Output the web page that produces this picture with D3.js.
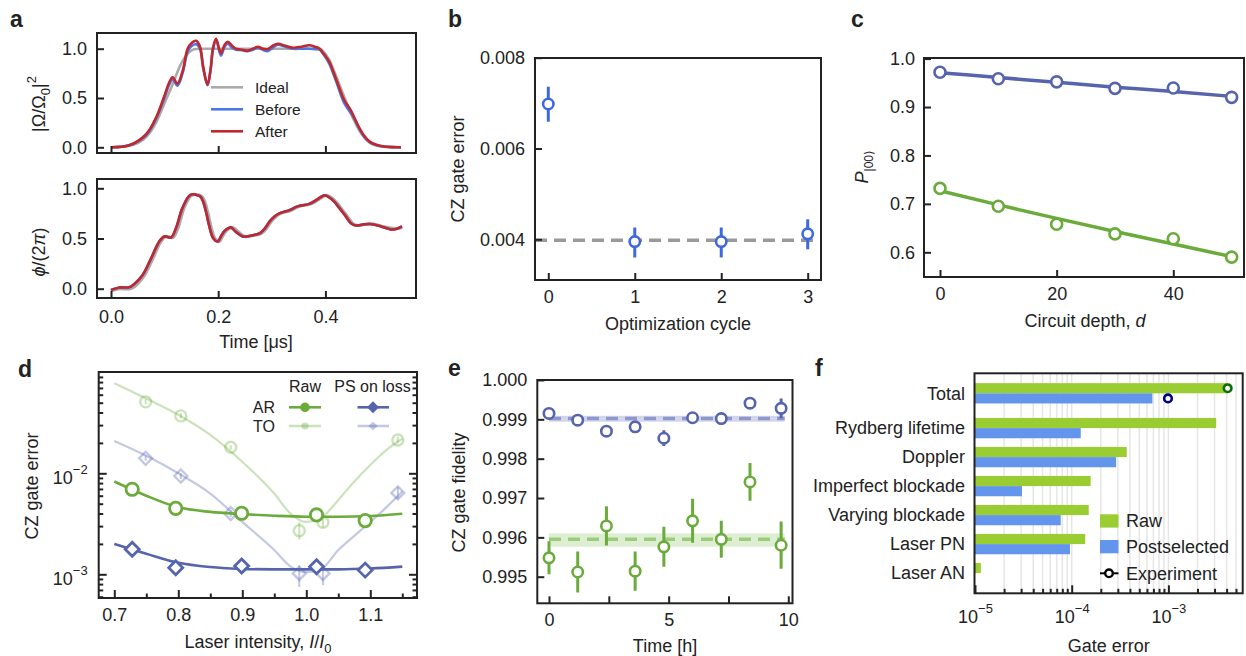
<!DOCTYPE html>
<html><head><meta charset="utf-8">
<script src="https://cdn.jsdelivr.net/npm/d3@7"></script>
<style>
body{margin:0;background:#fff}
svg{display:block;font-family:"Liberation Sans",Arial,Helvetica,sans-serif}
</style></head><body>
<svg id="fig" width="1246" height="656"></svg>
<script>
// ================= DATA =================
// (a) pulse amplitude |Ω/Ω0|^2 vs time [µs]
const pulseIdeal = [[0,0],[0.034,0.015],[0.065,0.10],[0.084,0.25],[0.100,0.45],[0.115,0.64],[0.130,0.84],[0.145,0.96],[0.155,0.995],[0.165,1.0],[0.39,1.0],[0.398,0.96],[0.407,0.89],[0.420,0.72],[0.436,0.50],[0.452,0.29],[0.468,0.13],[0.482,0.05],[0.497,0.015],[0.51,0.004],[0.541,0]];
const pulseBefore = [[0,0],[0.034,0.02],[0.065,0.12],[0.084,0.29],[0.0995,0.50],[0.108,0.63],[0.115,0.69],[0.124,0.625],[0.134,0.76],[0.143,0.97],[0.151,1.03],[0.159,1.045],[0.166,1.0],[0.172,0.80],[0.180,0.63],[0.186,0.79],[0.190,0.98],[0.196,1.09],[0.205,0.93],[0.212,1.02],[0.218,1.05],[0.226,1.01],[0.233,0.99],[0.245,0.985],[0.255,0.975],[0.265,0.99],[0.274,1.01],[0.283,0.99],[0.292,0.975],[0.302,1.01],[0.311,1.04],[0.325,1.02],[0.339,1.0],[0.355,1.0],[0.370,1.0],[0.380,0.995],[0.389,0.99],[0.398,0.93],[0.407,0.85],[0.420,0.67],[0.435,0.45],[0.447,0.35],[0.455,0.28],[0.463,0.19],[0.472,0.11],[0.482,0.055],[0.495,0.022],[0.507,0.008],[0.525,0.002],[0.541,0.0]];
const pulseAfter = [[0,0],[0.034,0.02],[0.065,0.13],[0.084,0.30],[0.0995,0.52],[0.108,0.65],[0.115,0.71],[0.124,0.645],[0.134,0.78],[0.143,1.0],[0.151,1.06],[0.159,1.08],[0.166,1.02],[0.172,0.82],[0.180,0.635],[0.186,0.80],[0.190,1.0],[0.196,1.10],[0.205,0.955],[0.212,1.04],[0.218,1.07],[0.226,1.03],[0.233,1.0],[0.245,0.99],[0.255,0.98],[0.265,1.0],[0.274,1.02],[0.283,1.0],[0.292,0.995],[0.302,1.03],[0.311,1.05],[0.325,1.03],[0.339,1.01],[0.355,1.02],[0.370,1.035],[0.380,1.02],[0.389,1.0],[0.398,0.94],[0.407,0.87],[0.420,0.69],[0.435,0.48],[0.447,0.38],[0.455,0.29],[0.463,0.20],[0.472,0.12],[0.482,0.06],[0.495,0.025],[0.507,0.01],[0.525,0.002],[0.541,0.0]];
// (a) phase φ/(2π)
const phaseIdeal = [[0,-0.02],[0.016,0.0],[0.036,0.0],[0.046,0.03],[0.062,0.13],[0.078,0.30],[0.093,0.47],[0.1025,0.52],[0.115,0.51],[0.124,0.59],[0.136,0.80],[0.148,0.92],[0.155,0.94],[0.162,0.935],[0.169,0.92],[0.174,0.88],[0.181,0.75],[0.186,0.63],[0.194,0.50],[0.202,0.47],[0.208,0.52],[0.214,0.57],[0.221,0.60],[0.227,0.61],[0.235,0.58],[0.249,0.52],[0.265,0.53],[0.28,0.55],[0.29,0.60],[0.299,0.67],[0.308,0.72],[0.317,0.75],[0.335,0.78],[0.351,0.82],[0.373,0.845],[0.388,0.89],[0.401,0.93],[0.41,0.91],[0.419,0.87],[0.431,0.79],[0.441,0.72],[0.451,0.65],[0.46,0.63],[0.473,0.64],[0.485,0.645],[0.497,0.635],[0.507,0.62],[0.525,0.60],[0.535,0.60],[0.543,0.61]];
const phaseBefore = [[0,-0.013],[0.0156,0.012],[0.034,0.014],[0.043,0.044],[0.059,0.136],[0.0746,0.30],[0.090,0.47],[0.0995,0.52],[0.112,0.51],[0.121,0.60],[0.133,0.80],[0.145,0.92],[0.152,0.94],[0.159,0.935],[0.166,0.92],[0.171,0.88],[0.178,0.75],[0.183,0.63],[0.191,0.50],[0.199,0.47],[0.205,0.52],[0.211,0.57],[0.218,0.60],[0.224,0.61],[0.232,0.57],[0.246,0.52],[0.262,0.53],[0.277,0.55],[0.287,0.60],[0.296,0.67],[0.305,0.72],[0.314,0.75],[0.332,0.78],[0.348,0.82],[0.370,0.845],[0.385,0.89],[0.398,0.93],[0.407,0.91],[0.416,0.87],[0.428,0.79],[0.438,0.72],[0.448,0.65],[0.457,0.63],[0.470,0.64],[0.482,0.645],[0.494,0.635],[0.504,0.62],[0.522,0.59],[0.532,0.595],[0.543,0.62]];
const phaseAfter = [[0,-0.013],[0.0156,0.012],[0.034,0.014],[0.043,0.044],[0.059,0.136],[0.0746,0.30],[0.090,0.47],[0.0995,0.52],[0.112,0.51],[0.121,0.60],[0.133,0.80],[0.145,0.92],[0.152,0.94],[0.159,0.935],[0.166,0.92],[0.171,0.88],[0.178,0.75],[0.183,0.63],[0.191,0.50],[0.199,0.47],[0.205,0.52],[0.211,0.57],[0.218,0.60],[0.224,0.61],[0.232,0.57],[0.246,0.52],[0.262,0.53],[0.277,0.55],[0.287,0.60],[0.296,0.67],[0.305,0.72],[0.314,0.75],[0.332,0.78],[0.348,0.82],[0.370,0.845],[0.385,0.89],[0.398,0.93],[0.407,0.91],[0.416,0.87],[0.428,0.79],[0.438,0.72],[0.448,0.65],[0.457,0.63],[0.470,0.64],[0.482,0.645],[0.494,0.635],[0.504,0.62],[0.522,0.59],[0.532,0.595],[0.543,0.62]];
const aLegend = ["Ideal", "Before", "After"];
const aTicksX = [0, 0.2, 0.4];
const aTicksY = [0, 0.5, 1.0];

// (b) CZ gate error vs optimization cycle
const cycles = [0, 1, 2, 3];
const cycleErr = [0.00698, 0.00395, 0.00395, 0.00412];
const cycleLo = [0.00659, 0.00360, 0.00360, 0.00378];
const cycleHi = [0.00736, 0.00426, 0.00426, 0.00444];
const cycleRef = 0.00398;
const bTicksY = [0.004, 0.006, 0.008];

// (c) P|00> vs circuit depth
const depth = [0, 10, 20, 30, 40, 50];
const pPS = [0.9717, 0.9585, 0.952, 0.9386, 0.9393, 0.920];
const pPSFit = [0.971, 0.961, 0.951, 0.941, 0.932, 0.922];
const pRaw = [0.732, 0.695, 0.658, 0.638, 0.628, 0.590];
const pRawErr = [0.003, 0.003, 0.008, 0.003, 0.003, 0.003];
const pRawFit = [0.727, 0.698, 0.670, 0.643, 0.617, 0.591];
const cTicksY = [0.6, 0.7, 0.8, 0.9, 1.0];
const cTicksX = [0, 20, 40];

// (d) CZ gate error vs laser intensity
const arIntensity = [0.728, 0.796, 0.899, 1.016, 1.092];
const arRaw = [6.95e-3, 4.5e-3, 4.02e-3, 3.87e-3, 3.40e-3];
const arPS = [1.77e-3, 1.16e-3, 1.21e-3, 1.19e-3, 1.10e-3];
const toIntensity = [0.749, 0.804, 0.882, 0.989, 1.026, 1.143];
const toRaw = [5.1e-2, 3.7e-2, 1.81e-2, 2.7e-3, 3.27e-3, 2.14e-2];
const toRawLo = [4.8e-2, 3.5e-2, 1.72e-2, 2.2e-3, 2.9e-3, 2.0e-2];
const toRawHi = [5.4e-2, 3.95e-2, 1.9e-2, 3.3e-3, 3.7e-3, 2.3e-2];
const toPS = [1.41e-2, 9.4e-3, 4.0e-3, 1.02e-3, 1.02e-3, 6.4e-3];
const toPSLo = [1.33e-2, 8.8e-3, 3.7e-3, 0.75e-3, 0.78e-3, 5.6e-3];
const toPSHi = [1.5e-2, 1.0e-2, 4.3e-3, 1.23e-3, 1.23e-3, 7.3e-3];
const arFitI = [0.70, 0.75, 0.80, 0.85, 0.90, 0.95, 1.00, 1.05, 1.10, 1.15];
const arRawFit = [8.3e-3, 6.0e-3, 4.6e-3, 4.15e-3, 3.95e-3, 3.8e-3, 3.72e-3, 3.72e-3, 3.78e-3, 3.98e-3];
const arPSFit = [2.0e-3, 1.6e-3, 1.3e-3, 1.18e-3, 1.13e-3, 1.12e-3, 1.12e-3, 1.12e-3, 1.14e-3, 1.19e-3];
const toFitI = [0.70, 0.75, 0.80, 0.85, 0.90, 0.95, 0.975, 1.0, 1.025, 1.05, 1.075, 1.10, 1.125, 1.15];
const toRawFit = [7.8e-2, 5.5e-2, 3.8e-2, 2.4e-2, 1.3e-2, 6.3e-3, 4.0e-3, 3.3e-3, 3.7e-3, 5.45e-3, 8.3e-3, 1.21e-2, 1.7e-2, 2.2e-2];
const toPSFit = [2.09e-2, 1.49e-2, 1.0e-2, 6.3e-3, 3.3e-3, 1.74e-3, 1.2e-3, 1.05e-3, 1.15e-3, 1.74e-3, 2.4e-3, 3.3e-3, 4.6e-3, 6.6e-3];
const dTicksX = [0.7, 0.8, 0.9, 1.0, 1.1];
const dMinorX = [0.75, 0.85, 0.95, 1.05, 1.15];
const dLegendCols = ["Raw", "PS on loss"];
const dLegendRows = ["AR", "TO"];

// (e) CZ gate fidelity vs time
const hours = [0, 1.2, 2.4, 3.6, 4.8, 6.0, 7.2, 8.4, 9.7];
const fidPS = [0.99915, 0.99898, 0.99870, 0.99881, 0.99852, 0.99904, 0.99902, 0.99941, 0.99928];
const fidPSErr = [0.00005, 0.00005, 0.00012, 0.0001, 0.0002, 0.00005, 0.00005, 0.0001, 0.00025];
const fidRaw = [0.99548, 0.99512, 0.99629, 0.99514, 0.99576, 0.99642, 0.99595, 0.99741, 0.99580];
const fidRawErr = [0.00042, 0.00052, 0.0005, 0.0005, 0.00051, 0.00056, 0.00047, 0.00048, 0.0006];
const meanPS = 0.99902, bandPS = [0.99894, 0.99909];
const meanRaw = 0.99595, bandRaw = [0.99576, 0.9961];
const bandHours = [0, 9.85];
const eTicksY = [0.995, 0.996, 0.997, 0.998, 0.999, 1.000];
const eTicksX = [0, 2.5, 5, 7.5, 10];

// (f) error budget
const sources = ["Total", "Rydberg lifetime", "Doppler", "Imperfect blockade", "Varying blockade", "Laser PN", "Laser AN"];
const budgetRaw = [4.11e-3, 3.12e-3, 3.71e-4, 1.57e-4, 1.50e-4, 1.38e-4, 1.15e-5];
const budgetPS = [6.83e-4, 1.24e-4, 2.88e-4, 3.06e-5, 7.7e-5, 9.6e-5, null];
const expRaw = 4.1e-3, expPS = 9.9e-4;
const fLegend = ["Raw", "Postselected", "Experiment"];

// ================= DRAWING =================
const svg = d3.select("#fig");
const FS = 18, INK = "#222";
const C = {ideal:"#aaaaaa", before:"#4a78e6", after:"#c0282e", bBlue:"#3d68e0",
  blue:"#5664ae", green:"#6aab3c", fRaw:"#9acd32", fPS:"#6495ed", expRaw:"#0b6e0b", expPS:"#00008b"};

function frame(x0, y0, x1, y1) {
  svg.append("rect").attr("x", x0).attr("y", y0).attr("width", x1 - x0).attr("height", y1 - y0)
    .attr("fill", "none").attr("stroke", INK).attr("stroke-width", 2);
}
let clipN = 0;
function clipGroup(x0, y0, x1, y1) {
  const id = "clip" + (clipN++);
  svg.append("clipPath").attr("id", id).append("rect").attr("x", x0).attr("y", y0).attr("width", x1 - x0).attr("height", y1 - y0);
  return svg.append("g").attr("clip-path", `url(#${id})`);
}
function axis(kind, scale, pos, vals, o = {}) {
  const size = o.size ?? 7, pad = o.pad ?? 10;
  const gen = kind === "left" ? d3.axisLeft : kind === "right" ? d3.axisRight : d3.axisBottom;
  const fmt = o.fmt === undefined ? () => "" : (typeof o.fmt === "string" ? d3.format(o.fmt) : o.fmt);
  const a = gen(scale).tickValues(vals).tickSize(-size).tickPadding(pad).tickFormat(fmt);
  const g = svg.append("g").attr("transform", kind === "bottom" ? `translate(0,${pos})` : `translate(${pos},0)`).call(a);
  g.attr("font-family", null).attr("font-size", FS);
  g.select(".domain").remove();
  g.selectAll(".tick line").attr("stroke", INK).attr("stroke-width", 2);
  g.selectAll(".tick text").attr("fill", INK);
  return g;
}
function powLabels(g, dy) {
  g.selectAll(".tick text").each(function(d) {
    const t = d3.select(this); const e = Math.round(Math.log10(d));
    t.text(null); if (dy) t.attr("dy", dy);
    t.append("tspan").text("10");
    t.append("tspan").attr("font-size", 13).attr("dy", "-0.75em").text("\u2212" + Math.abs(e));
  });
}
function minorLog(lo, hi) {
  const out = [];
  for (let e = Math.floor(Math.log10(lo)); e <= Math.ceil(Math.log10(hi)); e++)
    for (let k = 2; k <= 9; k++) { const v = k * Math.pow(10, e); if (v > lo && v < hi) out.push(v); }
  return out;
}
function label(x, y, txt, o = {}) {
  const t = svg.append("text").attr("x", x).attr("y", y).attr("font-size", o.fs ?? FS).attr("fill", INK)
    .attr("text-anchor", o.anchor ?? "middle").attr("font-weight", o.bold ? "bold" : null);
  if (o.rot) t.attr("transform", `rotate(-90,${x},${y})`);
  if (typeof txt === "string") t.text(txt); else txt(t);
  return t;
}
const openCircle = (g, x, y, col, r = 5.2, sw = 2.6) => g.append("circle").attr("cx", x).attr("cy", y).attr("r", r)
  .attr("fill", "#fff").attr("stroke", col).attr("stroke-width", sw);
const diamondPath = h => `M0,${-h}L${h},0L0,${h}L${-h},0Z`;

// ---------- panel a ----------
{
  const X0 = 97, X1 = 416;
  const x = d3.scaleLinear().domain([0, 0.4]).range([111, 325.4]);
  // top
  const yT = d3.scaleLinear().domain([0, 1]).range([147.3, 48.7]);
  const gT = clipGroup(X0, 33, X1, 153);
  const lineT = d3.line().x(d => x(d[0])).y(d => yT(d[1]));
  gT.append("path").datum(pulseIdeal).attr("d", lineT.curve(d3.curveMonotoneX)).attr("fill", "none").attr("stroke", C.ideal).attr("stroke-width", 2.6);
  gT.append("path").datum(pulseBefore).attr("d", lineT.curve(d3.curveCatmullRom.alpha(0.5))).attr("fill", "none").attr("stroke", C.before).attr("stroke-width", 2.6);
  gT.append("path").datum(pulseAfter).attr("d", lineT.curve(d3.curveCatmullRom.alpha(0.5))).attr("fill", "none").attr("stroke", C.after).attr("stroke-width", 2.6);
  frame(X0, 33, X1, 153);
  axis("left", yT, X0, aTicksY, {fmt: ".1f"});
  axis("bottom", x, 153, aTicksX);
  // legend
  [C.ideal, C.before, C.after].forEach((c, i) => {
    const yy = 87.3 + i * 22;
    svg.append("line").attr("x1", 211).attr("x2", 243).attr("y1", yy).attr("y2", yy).attr("stroke", c).attr("stroke-width", 2.6);
    label(255, yy + 5.6, aLegend[i], {anchor: "start", fs: 15.5});
  });
  label(45, 104, t => { t.append("tspan").text("|\u03A9/\u03A9"); t.append("tspan").attr("font-size", 13).attr("dy", 5).text("0");
    t.append("tspan").attr("dy", -5).text("|"); t.append("tspan").attr("font-size", 13).attr("dy", -9).text("2"); }, {rot: true});
  // bottom
  const yB = d3.scaleLinear().domain([0, 1]).range([288.7, 188.3]);
  const gB = clipGroup(X0, 179, X1, 298);
  const lineB = d3.line().x(d => x(d[0])).y(d => yB(d[1])).curve(d3.curveCatmullRom.alpha(0.5));
  gB.append("path").datum(phaseIdeal).attr("d", lineB).attr("fill", "none").attr("stroke", C.ideal).attr("stroke-width", 3.2);
  gB.append("path").datum(phaseBefore).attr("d", lineB).attr("fill", "none").attr("stroke", C.before).attr("stroke-width", 2.6);
  gB.append("path").datum(phaseAfter).attr("d", lineB).attr("fill", "none").attr("stroke", C.after).attr("stroke-width", 2.6);
  frame(X0, 179, X1, 298);
  axis("left", yB, X0, aTicksY, {fmt: ".1f"});
  axis("bottom", x, 298, aTicksX, {fmt: ".1f", pad: 12});
  label(45, 252, t => { t.append("tspan").attr("font-style", "italic").text("\u03D5"); t.append("tspan").text("/(2"); t.append("tspan").attr("font-style", "italic").text("\u03C0"); t.append("tspan").text(")"); }, {rot: true});
  label(256, 348, "Time [\u03BCs]");
  label(10, 27.3, "a", {anchor: "start", bold: true, fs: 23});
}

// ---------- panel b ----------
{
  const X0 = 535, X1 = 821, Y0 = 58, Y1 = 280;
  const x = d3.scaleLinear().domain([0, 3]).range([548.3, 807.7]);
  const y = d3.scaleLinear().domain([0.004, 0.008]).range([239.3, 57.7]);
  const g = clipGroup(X0, Y0, X1, Y1);
  g.append("line").attr("x1", X0).attr("x2", X1).attr("y1", y(cycleRef)).attr("y2", y(cycleRef))
    .attr("stroke", "#999").attr("stroke-width", 3.5).attr("stroke-dasharray", "12,7");
  cycles.forEach((c, i) => {
    g.append("line").attr("x1", x(c)).attr("x2", x(c)).attr("y1", y(cycleLo[i])).attr("y2", y(cycleHi[i])).attr("stroke", C.bBlue).attr("stroke-width", 3);
    openCircle(g, x(c), y(cycleErr[i]), C.bBlue);
  });
  frame(X0, Y0, X1, Y1);
  axis("left", y, X0, bTicksY, {fmt: ".3f"});
  axis("bottom", x, Y1, cycles, {fmt: "d"});
  label(463.7, 169, "CZ gate error", {rot: true});
  label(678, 330, "Optimization cycle");
  label(448, 27.3, "b", {anchor: "start", bold: true, fs: 23});
}

// ---------- panel c ----------
{
  const X0 = 924, X1 = 1244, Y0 = 58, Y1 = 277;
  const x = d3.scaleLinear().domain([0, 40]).range([940, 1173.3]);
  const y = d3.scaleLinear().domain([0.6, 1.0]).range([252.3, 58.6]);
  const g = clipGroup(X0, Y0, X1, Y1);
  const ln = d3.line().x((d, i) => x(depth[i])).y(d => y(d)).curve(d3.curveMonotoneX);
  g.append("path").datum(pPSFit).attr("d", ln).attr("fill", "none").attr("stroke", C.blue).attr("stroke-width", 3.5);
  g.append("path").datum(pRawFit).attr("d", ln).attr("fill", "none").attr("stroke", C.green).attr("stroke-width", 3.5);
  depth.forEach((d, i) => {
    g.append("line").attr("x1", x(d)).attr("x2", x(d)).attr("y1", y(pRaw[i] - pRawErr[i])).attr("y2", y(pRaw[i] + pRawErr[i])).attr("stroke", C.green).attr("stroke-width", 3);
    openCircle(g, x(d), y(pRaw[i]), C.green, 5.5);
    openCircle(g, x(d), y(pPS[i]), C.blue, 5.5);
  });
  frame(X0, Y0, X1, Y1);
  axis("left", y, X0, cTicksY, {fmt: ".1f", pad: 9});
  axis("bottom", x, Y1, cTicksX, {fmt: "d"});
  label(868, 166.7, t => { t.append("tspan").attr("font-style", "italic").text("P"); t.append("tspan").attr("font-size", 12).attr("dy", 5).text("|00\u27E9"); }, {rot: true});
  label(1085, 327, t => { t.append("tspan").text("Circuit depth, "); t.append("tspan").attr("font-style", "italic").text("d"); });
  label(851, 27.3, "c", {anchor: "start", bold: true, fs: 23});
}

// ---------- panel d ----------
{
  const X0 = 98.7, X1 = 417, Y0 = 372, Y1 = 598;
  const x = d3.scaleLinear().domain([0.7, 1.1]).range([114.3, 370.3]);
  const y = d3.scaleLog().domain([1e-3, 1e-2]).range([574.3, 473.3]);
  const g = clipGroup(X0, Y0, X1, Y1);
  const lineOf = (xs) => d3.line().x((d, i) => x(xs[i])).y(d => y(d)).curve(d3.curveMonotoneX);
  const light = 0.35;
  // TO (light)
  g.append("path").datum(toRawFit).attr("d", lineOf(toFitI)).attr("fill", "none").attr("stroke", C.green).attr("stroke-opacity", light).attr("stroke-width", 2.2);
  g.append("path").datum(toPSFit).attr("d", lineOf(toFitI)).attr("fill", "none").attr("stroke", C.blue).attr("stroke-opacity", light).attr("stroke-width", 2.2);
  toIntensity.forEach((v, i) => {
    g.append("line").attr("x1", x(v)).attr("x2", x(v)).attr("y1", y(toRawLo[i])).attr("y2", y(toRawHi[i])).attr("stroke", C.green).attr("stroke-opacity", light).attr("stroke-width", 2);
    g.append("circle").attr("cx", x(v)).attr("cy", y(toRaw[i])).attr("r", 5.5).attr("fill", "none").attr("stroke", C.green).attr("stroke-opacity", light).attr("stroke-width", 2.4);
    g.append("line").attr("x1", x(v)).attr("x2", x(v)).attr("y1", y(toPSLo[i])).attr("y2", y(toPSHi[i])).attr("stroke", C.blue).attr("stroke-opacity", light).attr("stroke-width", 2);
    g.append("path").attr("d", diamondPath(6.5)).attr("transform", `translate(${x(v)},${y(toPS[i])})`).attr("fill", "none").attr("stroke", C.blue).attr("stroke-opacity", light).attr("stroke-width", 2.4);
  });
  // AR
  g.append("path").datum(arRawFit).attr("d", lineOf(arFitI)).attr("fill", "none").attr("stroke", C.green).attr("stroke-width", 2.6);
  g.append("path").datum(arPSFit).attr("d", lineOf(arFitI)).attr("fill", "none").attr("stroke", C.blue).attr("stroke-width", 2.6);
  arIntensity.forEach((v, i) => {
    openCircle(g, x(v), y(arRaw[i]), C.green, 6.2, 2.8);
    g.append("path").attr("d", diamondPath(7)).attr("transform", `translate(${x(v)},${y(arPS[i])})`).attr("fill", "#fff").attr("stroke", C.blue).attr("stroke-width", 2.8);
  });
  frame(X0, Y0, X1, Y1);
  const minors = minorLog(5.8e-4, 0.1);
  axis("left", y, X0, minors, {size: 4.5});
  axis("right", y, X1, minors, {size: 4.5});
  powLabels(axis("left", y, X0, [1e-3, 1e-2], {size: 8, pad: 11}), "0.55em");
  axis("right", y, X1, [1e-3, 1e-2], {size: 8});
  axis("bottom", x, Y1, dMinorX, {size: 4.5});
  axis("bottom", x, Y1, dTicksX, {fmt: ".1f", size: 8, pad: 10});
  // legend
  const LF = 16;
  label(305, 392, dLegendCols[0], {fs: LF});
  label(372.5, 392, dLegendCols[1], {fs: LF});
  label(275, 413, dLegendRows[0], {anchor: "end", fs: LF});
  label(275, 432, dLegendRows[1], {anchor: "end", fs: LF});
  [[407.3, 1, 4.8, 6], [426, light, 3.6, 4.6]].forEach(([yy, op, r, h]) => {
    svg.append("line").attr("x1", 289).attr("x2", 321).attr("y1", yy).attr("y2", yy).attr("stroke", C.green).attr("stroke-opacity", op).attr("stroke-width", 2.6);
    svg.append("circle").attr("cx", 305).attr("cy", yy).attr("r", r).attr("fill", C.green).attr("fill-opacity", op);
    svg.append("line").attr("x1", 357.5).attr("x2", 389).attr("y1", yy).attr("y2", yy).attr("stroke", C.blue).attr("stroke-opacity", op).attr("stroke-width", 2.6);
    svg.append("path").attr("d", diamondPath(h)).attr("transform", `translate(373,${yy})`).attr("fill", C.blue).attr("fill-opacity", op);
  });
  label(38, 486, "CZ gate error", {rot: true});
  label(258, 648, t => { t.append("tspan").text("Laser intensity, "); t.append("tspan").attr("font-style", "italic").text("I"); t.append("tspan").text("/");
    t.append("tspan").attr("font-style", "italic").text("I"); t.append("tspan").attr("font-size", 13).attr("dy", 5).text("0"); });
  label(18, 376.7, "d", {anchor: "start", bold: true, fs: 23});
}

// ---------- panel e ----------
{
  const X0 = 537.3, X1 = 792.5, Y0 = 380, Y1 = 603.3;
  const x = d3.scaleLinear().domain([0, 10]).range([549, 788.3]);
  const y = d3.scaleLinear().domain([0.995, 1.0]).range([576.7, 380]);
  const g = clipGroup(X0, Y0, X1, Y1);
  [[bandPS, meanPS, C.blue, "#c3c8e4", "#8e98cc"], [bandRaw, meanRaw, C.green, "#d3e8c3", "#9dcb7c"]].forEach(([band, m, c, bc, lc]) => {
    g.append("rect").attr("x", x(bandHours[0])).attr("width", x(bandHours[1]) - x(bandHours[0]))
      .attr("y", y(band[1])).attr("height", y(band[0]) - y(band[1])).attr("fill", bc).attr("fill-opacity", 0.75);
    g.append("line").attr("x1", x(bandHours[0])).attr("x2", x(bandHours[1])).attr("y1", y(m)).attr("y2", y(m))
      .attr("stroke", lc).attr("stroke-width", 3.5).attr("stroke-dasharray", "12,7");
  });
  hours.forEach((h, i) => {
    g.append("line").attr("x1", x(h)).attr("x2", x(h)).attr("y1", y(fidPS[i] - fidPSErr[i])).attr("y2", y(fidPS[i] + fidPSErr[i])).attr("stroke", C.blue).attr("stroke-width", 3);
    openCircle(g, x(h), y(fidPS[i]), C.blue);
    g.append("line").attr("x1", x(h)).attr("x2", x(h)).attr("y1", y(fidRaw[i] - fidRawErr[i])).attr("y2", y(fidRaw[i] + fidRawErr[i])).attr("stroke", C.green).attr("stroke-width", 3);
    openCircle(g, x(h), y(fidRaw[i]), C.green);
  });
  frame(X0, Y0, X1, Y1);
  axis("left", y, X0, eTicksY, {fmt: ".3f"});
  axis("bottom", x, Y1, eTicksX, {fmt: d => Number.isInteger(d) ? d3.format("d")(d) : ""});
  label(464.7, 492.5, "CZ gate fidelity", {rot: true});
  label(665, 652, "Time [h]");
  label(448, 376, "e", {anchor: "start", bold: true, fs: 23});
}

// ---------- panel f ----------
{
  const X0 = 974.5, X1 = 1242.7, Y0 = 373.3, Y1 = 593.3;
  const x = d3.scaleLog().domain([1e-4, 1e-3]).range([1071.7, 1168.4]);
  const pos = i => i === 0 ? 0 : i + 0.2;
  const y = d3.scaleLinear().domain([0, 6.2]).range([393.3, 573.1]);
  const bh = y(0.35) - y(0);
  const g = clipGroup(X0, Y0, X1, Y1);
  const lo = 1e-5, hi = x.invert(X1);
  const gridVals = minorLog(lo, hi).concat([1e-4, 1e-3]);
  gridVals.forEach(v => g.append("line").attr("x1", x(v)).attr("x2", x(v)).attr("y1", Y0).attr("y2", Y1).attr("stroke", "#e6e6e6").attr("stroke-width", 1.5));
  sources.forEach((s, i) => {
    const c = y(pos(i));
    g.append("rect").attr("x", x(lo)).attr("y", c - bh).attr("width", x(budgetRaw[i]) - x(lo)).attr("height", bh).attr("fill", C.fRaw);
    if (budgetPS[i] !== null)
      g.append("rect").attr("x", x(lo)).attr("y", c).attr("width", x(budgetPS[i]) - x(lo)).attr("height", bh).attr("fill", C.fPS);
    label(965, c + 6.3, s, {anchor: "end"});
  });
  openCircle(g, x(expRaw), y(pos(0)) - bh / 2, C.expRaw, 3.8, 2.6);
  openCircle(g, x(expPS), y(pos(0)) + bh / 2, C.expPS, 3.8, 2.6);
  frame(X0, Y0, X1, Y1);
  axis("bottom", x, Y1, minorLog(lo, hi), {size: 4.5});
  powLabels(axis("bottom", x, Y1, [1e-5, 1e-4, 1e-3], {size: 8, pad: 17}));
  // legend
  [[C.fRaw, 514.3], [C.fPS, 540]].forEach(([c, yy], i) => {
    svg.append("rect").attr("x", 1100).attr("y", yy).attr("width", 18.5).attr("height", 13.3).attr("fill", c);
    label(1126, yy + 13, fLegend[i], {anchor: "start"});
  });
  svg.append("line").attr("x1", 1100).attr("x2", 1118.5).attr("y1", 573.3).attr("y2", 573.3).attr("stroke", "#000").attr("stroke-width", 2);
  openCircle(svg, 1109, 573.3, "#000", 3.8, 2.4);
  label(1126, 579.5, fLegend[2], {anchor: "start"});
  label(1108.7, 652, "Gate error");
  label(815, 376, "f", {anchor: "start", bold: true, fs: 23});
}
</script>
</body></html>
